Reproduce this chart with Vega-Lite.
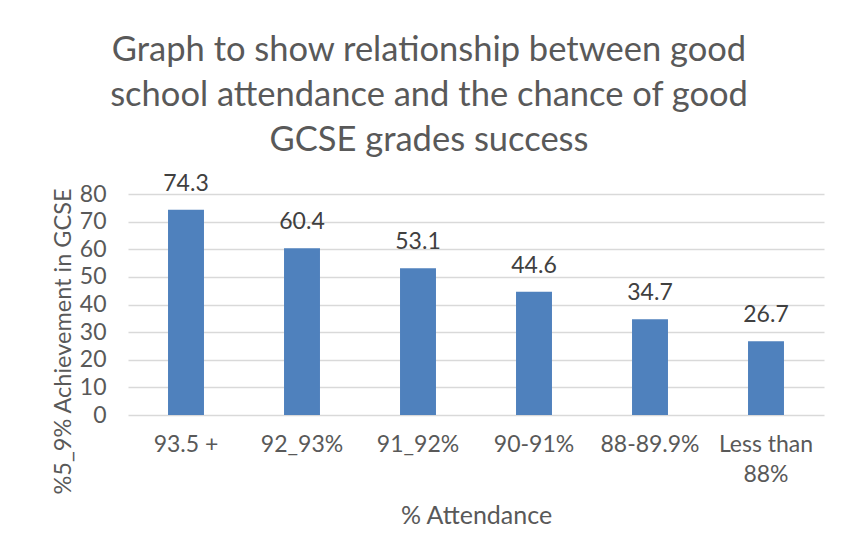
{
  "$schema": "https://vega.github.io/schema/vega-lite/v6.json",
  "width": 696,
  "height": 221,
  "autosize": {"type": "none"},
  "padding": {"left": 128, "top": 194, "right": 19, "bottom": 142},
  "background": "white",
  "title": {
    "text": ["Graph to show relationship between good", "school attendance and the chance of good", "GCSE grades success"],
    "font": "Lato",
    "fontSize": 34.5,
    "fontWeight": "normal",
    "color": "#595959",
    "lineHeight": 45,
    "anchor": "middle",
    "dx": -47,
    "dy": -10
  },
  "data": {
    "values": [
      {"attendance": "93.5 +", "achievement": 74.3},
      {"attendance": "92_93%", "achievement": 60.4},
      {"attendance": "91_92%", "achievement": 53.1},
      {"attendance": "90-91%", "achievement": 44.6},
      {"attendance": "88-89.9%", "achievement": 34.7},
      {"attendance": "Less than 88%", "achievement": 26.7}
    ]
  },
  "encoding": {
    "x": {
      "field": "attendance",
      "type": "nominal",
      "sort": null,
      "scale": {"paddingInner": 0.69, "paddingOuter": 0.345},
      "axis": {
        "title": "% Attendance",
        "labelAngle": 0,
        "labelExpr": "datum.label == 'Less than 88%' ? ['Less than', '88%'] : datum.label",
        "labelLineHeight": 30,
        "labelPadding": 18,
        "ticks": false,
        "domain": false,
        "labelFont": "Lato",
        "labelFontSize": 23,
        "labelColor": "#595959",
        "titleFont": "Lato",
        "titleFontSize": 25,
        "titleFontWeight": "normal",
        "titleColor": "#595959",
        "titlePadding": 17
      }
    },
    "y": {
      "field": "achievement",
      "type": "quantitative",
      "scale": {"domain": [0, 80]},
      "axis": {
        "title": "%5_9% Achievement in GCSE",
        "values": [0, 10, 20, 30, 40, 50, 60, 70, 80],
        "ticks": false,
        "domain": false,
        "grid": true,
        "gridColor": "#d9d9d9",
        "gridWidth": 1.3,
        "labelPadding": 22,
        "labelFont": "Lato",
        "labelFontSize": 23,
        "labelColor": "#595959",
        "titleFont": "Lato",
        "titleFontSize": 23.5,
        "titleFontWeight": "normal",
        "titleColor": "#595959",
        "titlePadding": 4,
        "titleY": 147
      }
    }
  },
  "layer": [
    {"mark": {"type": "bar", "color": "#4f81bd"}},
    {
      "mark": {"type": "text", "dy": -19, "baseline": "alphabetic", "font": "Lato", "fontSize": 23, "color": "#404040"},
      "encoding": {"text": {"field": "achievement", "type": "quantitative", "format": ".1f"}}
    }
  ],
  "config": {"view": {"stroke": null}}
}
